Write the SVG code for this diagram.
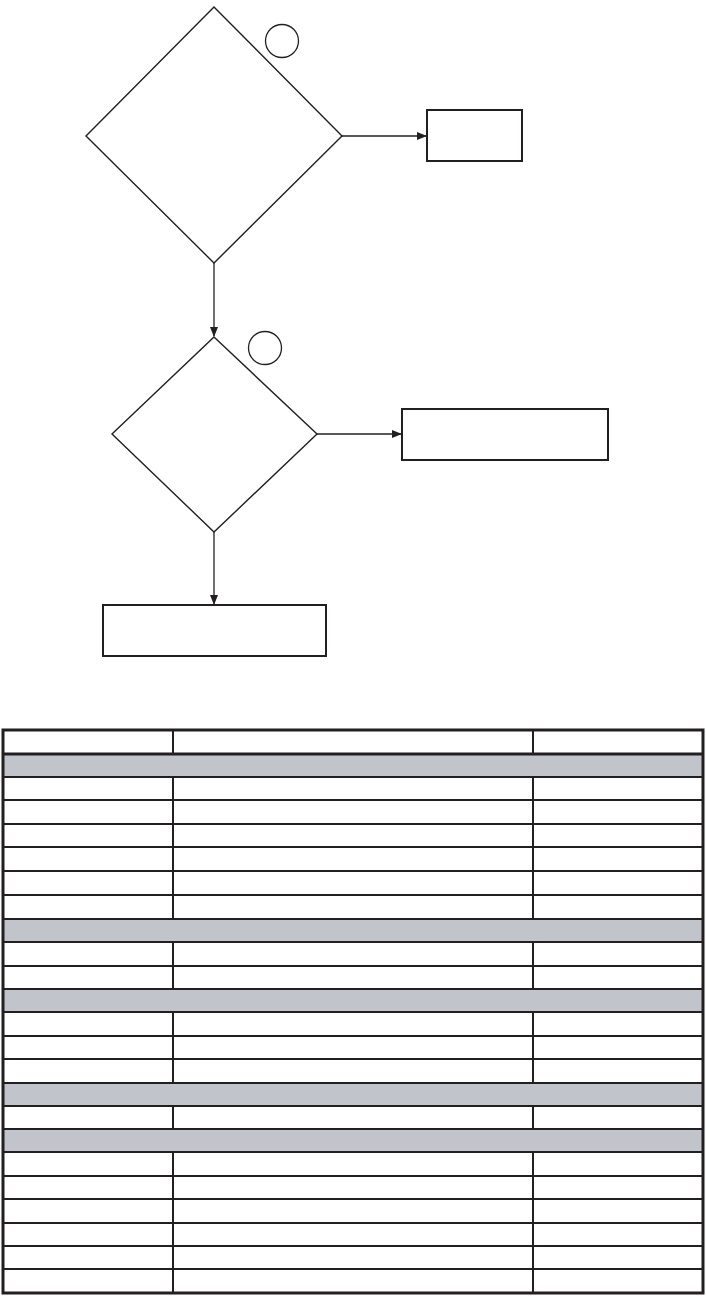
<svg xmlns="http://www.w3.org/2000/svg" width="706" height="1316" viewBox="0 0 706 1316">
<style>
.d{fill:#fff;stroke:#231f20;stroke-width:1.4}
.b{fill:#fff;stroke:#231f20;stroke-width:2}
.c{fill:none;stroke:#231f20;stroke-width:1.3}
.e{stroke:#231f20;stroke-width:1.3;fill:none}
.g{fill:#c1c4cb}
.t{stroke:#231f20;stroke-width:2;fill:none}
.T{stroke:#231f20;stroke-width:3;fill:none}
</style>
<defs>
<marker id="ah" markerWidth="10" markerHeight="8" refX="9" refY="4" orient="auto" markerUnits="userSpaceOnUse">
<path d="M0,0 L10,4 L0,8 Z" fill="#231f20"/>
</marker>
</defs>
<rect width="706" height="1316" fill="#fff"/>
<g id="connectors">
<line class="e" x1="342" y1="136" x2="426" y2="136" marker-end="url(#ah)"/>
<line class="e" x1="214" y1="263" x2="214" y2="336" marker-end="url(#ah)"/>
<line class="e" x1="317" y1="434" x2="401" y2="434" marker-end="url(#ah)"/>
<line class="e" x1="214" y1="532" x2="214" y2="604" marker-end="url(#ah)"/>
</g>
<g id="decision1">
<polygon class="d" points="214,7 342,136 214,263 86,136"/>
<circle class="c" cx="282" cy="41" r="16.5"/>
</g>
<g id="box1"><rect class="b" x="427" y="110" width="95" height="51"/></g>
<g id="decision2">
<polygon class="d" points="214,337 317,434 214,532 112,434"/>
<circle class="c" cx="265" cy="348" r="16.5"/>
</g>
<g id="box2"><rect class="b" x="402" y="409" width="206" height="51"/></g>
<g id="box3"><rect class="b" x="103" y="605" width="223" height="51"/></g>
<g id="table">
<rect class="g" x="3" y="754" width="700" height="23"/>
<rect class="g" x="3" y="919" width="700" height="23"/>
<rect class="g" x="3" y="989" width="700" height="23"/>
<rect class="g" x="3" y="1083" width="700" height="23"/>
<rect class="g" x="3" y="1129" width="700" height="23"/>
<path class="t" d="M3,777H703M3,800H703M3,824H703M3,847H703M3,871H703M3,895H703M3,919H703M3,942H703M3,966H703M3,989H703M3,1012H703M3,1036H703M3,1059H703M3,1083H703M3,1106H703M3,1129H703M3,1152H703M3,1176H703M3,1199H703M3,1223H703M3,1246H703M3,1269H703"/>
<path class="t" d="M173,730V754M533,730V754M173,777V919M533,777V919M173,942V989M533,942V989M173,1012V1083M533,1012V1083M173,1106V1129M533,1106V1129M173,1152V1293M533,1152V1293"/>
<path class="T" d="M3,754H703"/>
<rect class="T" x="3" y="730" width="700" height="563"/>
</g>
</svg>
